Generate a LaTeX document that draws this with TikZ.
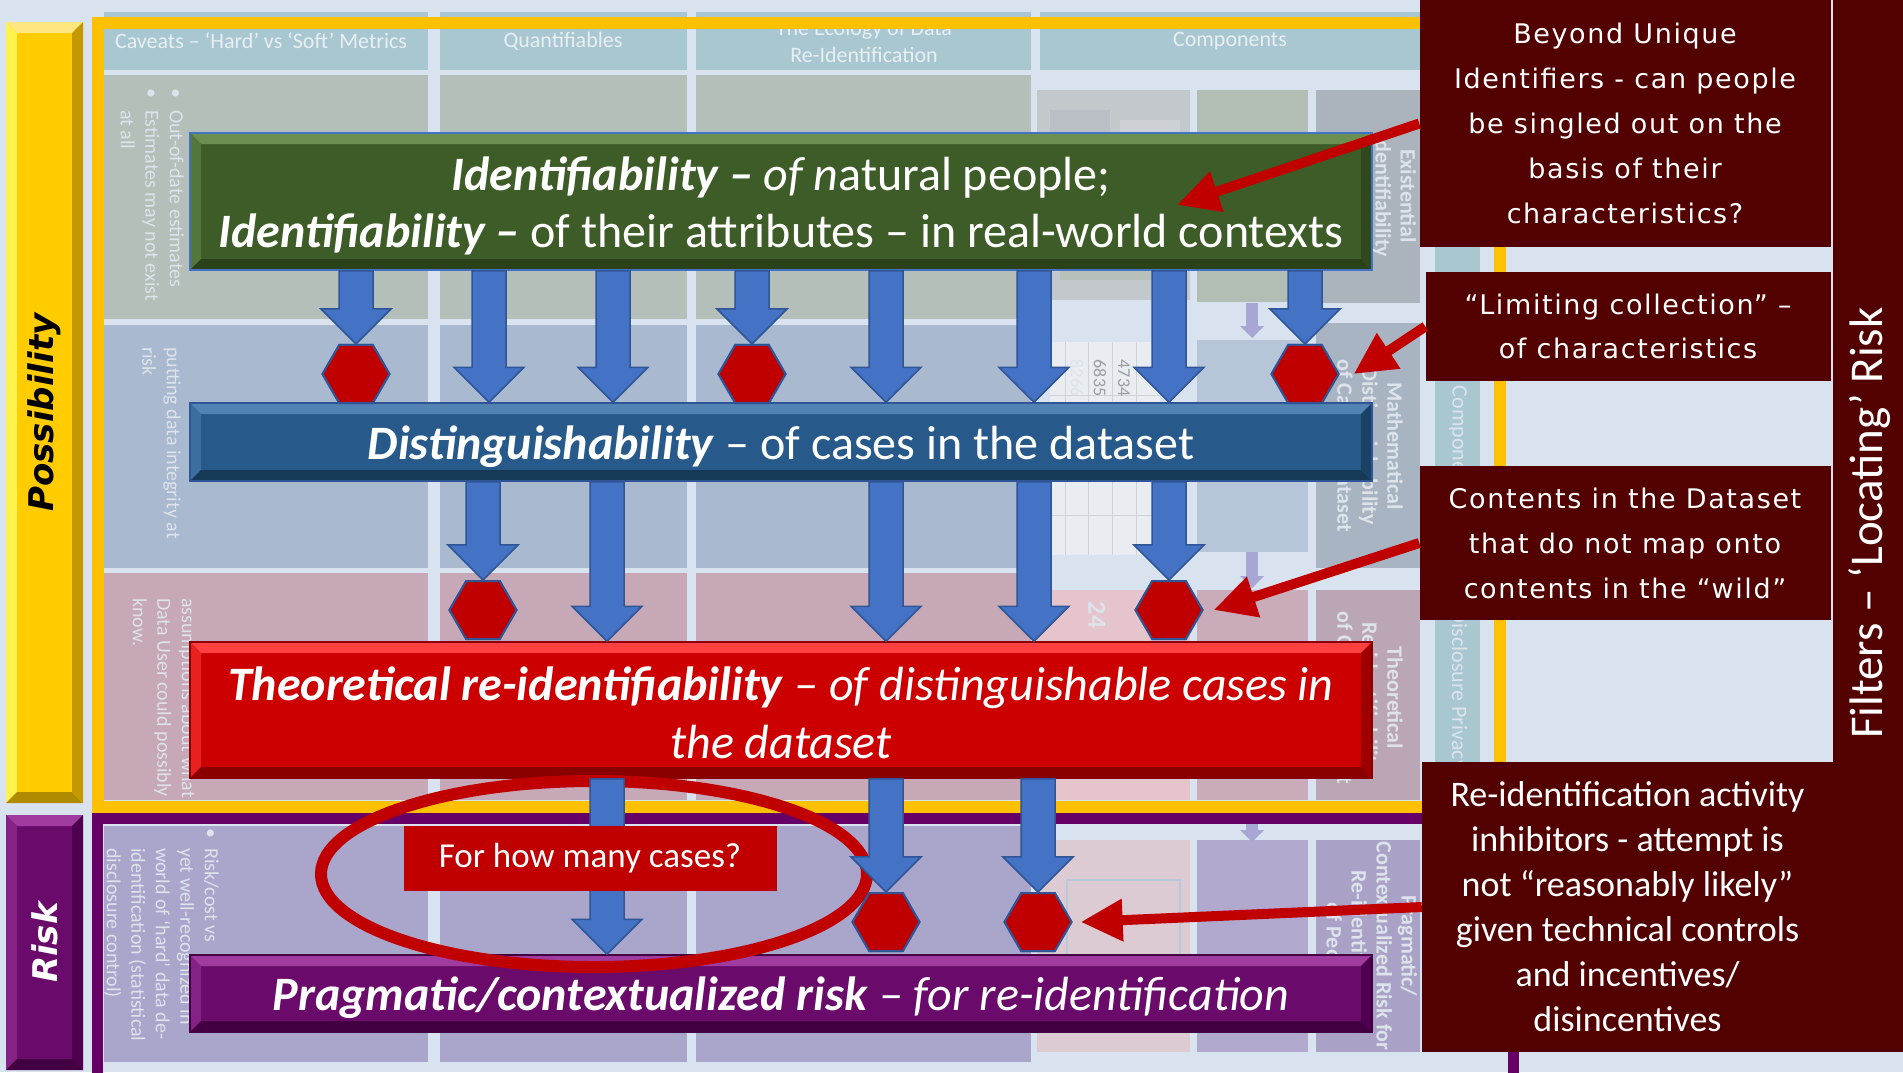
\documentclass[tikz,border=0pt]{standalone}
\usepackage{fontspec}
\setmainfont{Carlito}
\newfontfamily\calloutfont[LetterSpace=6]{DejaVu Sans}
\newfontfamily\bandfont{DejaVu Sans}
\usetikzlibrary{shapes.geometric,arrows.meta,calc}

\definecolor{pagebg}{HTML}{D9E2EF}
\definecolor{hdrcell}{HTML}{A9C7D1}
\definecolor{hdrtext}{HTML}{E8EFF3}
\definecolor{rowA}{HTML}{B4BFB9}
\definecolor{rowB}{HTML}{A9B9D0}
\definecolor{rowC}{HTML}{C6A8B6}
\definecolor{rowD}{HTML}{AAA5CB}
\definecolor{fadetext}{HTML}{DDE3EA}
\definecolor{frameyellow}{HTML}{FFC000}
\definecolor{framepurple}{HTML}{660066}
\definecolor{calloutred}{HTML}{520000}
\definecolor{arrowblue}{HTML}{4472C4}
\definecolor{arrowedge}{HTML}{2F5597}
\definecolor{signalred}{HTML}{C00000}
% components column tints
\definecolor{imgA}{HTML}{C3C8CD}\definecolor{imgB}{HTML}{B9BFC4}\definecolor{imgC}{HTML}{CDD1D5}
\definecolor{imgD}{HTML}{B8C0BA}\definecolor{cellA}{HTML}{B2BEB3}\definecolor{cellB}{HTML}{ABB4BC}
\definecolor{tblfill}{HTML}{E9EDF1}\definecolor{tblgrid}{HTML}{CCD3DA}\definecolor{cellC}{HTML}{B6C5D8}
\definecolor{cellD}{HTML}{A9B4C2}\definecolor{cellE}{HTML}{E5C4CC}\definecolor{cellF}{HTML}{C9ABBA}
\definecolor{cellG}{HTML}{BBA6B6}\definecolor{cellH}{HTML}{DCCBD3}\definecolor{cellI}{HTML}{B8C8DC}
\definecolor{cellJ}{HTML}{B1A9CD}\definecolor{cellK}{HTML}{A9A2C6}\definecolor{faintarrowc}{HTML}{A7A6D4}
% bevelled box palettes: base, top, left, bottom, right
\definecolor{gBase}{HTML}{3E5C27}\definecolor{gTop}{HTML}{6B8F50}\definecolor{gLeft}{HTML}{54763B}
\definecolor{gBottom}{HTML}{2A4119}\definecolor{gRight}{HTML}{2F481D}
\definecolor{bBase}{HTML}{275A8A}\definecolor{bTop}{HTML}{5283B5}\definecolor{bLeft}{HTML}{3C6E9F}
\definecolor{bBottom}{HTML}{163955}\definecolor{bRight}{HTML}{1B4265}
\definecolor{rBase}{HTML}{CC0000}\definecolor{rTop}{HTML}{FF4040}\definecolor{rLeft}{HTML}{E82020}
\definecolor{rBottom}{HTML}{8A0000}\definecolor{rRight}{HTML}{9E0000}
\definecolor{pBase}{HTML}{6A0A6A}\definecolor{pTop}{HTML}{A03CA0}\definecolor{pLeft}{HTML}{852285}
\definecolor{pBottom}{HTML}{420042}\definecolor{pRight}{HTML}{4E004E}
\definecolor{yBase}{HTML}{FFCC00}\definecolor{yTop}{HTML}{FFE680}\definecolor{yLeft}{HTML}{FFF24D}
\definecolor{yBottom}{HTML}{B08A00}\definecolor{yRight}{HTML}{C49900}

\newcommand{\bevdepth}{11pt}
% downward block arrow: shaft from the level of #1 to the tip at #2
\newcommand{\blockarrow}[2]{%
  \filldraw[blockarrow] let \p1=#1, \p2=#2 in
    ({\x2-17pt},\y1) -- ({\x2+17pt},\y1) -- ({\x2+17pt},{\y2+35pt})
    -- ({\x2+35pt},{\y2+35pt}) -- (\x2,\y2) -- ({\x2-35pt},{\y2+35pt})
    -- ({\x2-17pt},{\y2+35pt}) -- cycle;}

\begin{document}
\begin{tikzpicture}[x=1pt,y=-1pt,
  bevel/.style n args={5}{fill=#1, path picture={
    \fill[#2] (path picture bounding box.north west) -- (path picture bounding box.north east)
      -- ([shift={(-\bevdepth,-\bevdepth)}]path picture bounding box.north east)
      -- ([shift={(\bevdepth,-\bevdepth)}]path picture bounding box.north west) -- cycle;
    \fill[#3] (path picture bounding box.north west) -- ([shift={(\bevdepth,-\bevdepth)}]path picture bounding box.north west)
      -- ([shift={(\bevdepth,\bevdepth)}]path picture bounding box.south west) -- (path picture bounding box.south west) -- cycle;
    \fill[#4] (path picture bounding box.south west) -- ([shift={(\bevdepth,\bevdepth)}]path picture bounding box.south west)
      -- ([shift={(-\bevdepth,\bevdepth)}]path picture bounding box.south east) -- (path picture bounding box.south east) -- cycle;
    \fill[#5] (path picture bounding box.north east) -- ([shift={(-\bevdepth,-\bevdepth)}]path picture bounding box.north east)
      -- ([shift={(-\bevdepth,\bevdepth)}]path picture bounding box.south east) -- (path picture bounding box.south east) -- cycle;
  }},
  mainbox/.style={rectangle, inner sep=0pt, line width=1.5pt, minimum width=1182pt},
  maintext/.style={inner sep=0pt, text=white, align=center, font=\fontsize{48}{57}\selectfont},
  bandbox/.style={rectangle, inner sep=0pt, minimum width=77pt},
  bandtext/.style={rotate=90, font=\bandfont\bfseries\itshape\fontsize{34}{40}\selectfont, inner sep=0pt},
  calloutbox/.style={rectangle, fill=calloutred, text=white, align=center, inner sep=0pt},
  blockarrow/.style={fill=arrowblue, draw=arrowedge, line width=1.5pt, line join=miter},
  hexnode/.style={regular polygon, regular polygon sides=6, minimum size=67pt, inner sep=0pt,
    fill=signalred, draw=arrowedge, line width=2pt},
  callarrow/.style={draw=signalred, line width=10pt, -{Triangle[length=42pt,width=40pt]}},
  hdrlabel/.style={text=hdrtext, font=\fontsize{22}{26}\selectfont, align=center, inner sep=0pt},
  fadetxt/.style={text=fadetext, font=\fontsize{20}{24.5}\selectfont, rotate=-90, align=left,
    anchor=north west, inner sep=0pt},
  fadetitle/.style={text=fadetext, font=\bfseries\fontsize{22}{25}\selectfont, rotate=-90,
    align=center, inner sep=0pt},
]
\useasboundingbox (0,0) rectangle (1903,1072);
\fill[pagebg] (0,0) rectangle (1903,1072);

% ---------- faded reference table in the background ----------
\fill[hdrcell] (104,12) rectangle (428,70);
\fill[hdrcell] (440,12) rectangle (687,70);
\fill[hdrcell] (696,12) rectangle (1031,70);
\fill[hdrcell] (1040,12) rectangle (1420,70);
\foreach \xa/\xb in {104/428, 440/687, 696/1031}{
  \fill[rowA] (\xa,75) rectangle (\xb,319);
  \fill[rowB] (\xa,325) rectangle (\xb,568);
  \fill[rowC] (\xa,573) rectangle (\xb,800);
  \fill[rowD] (\xa,826) rectangle (\xb,1062);
}
% components column
\fill[imgA] (1037,90) rectangle (1190,300);
\fill[imgB] (1050,110) rectangle (1110,170);
\fill[imgC] (1120,120) rectangle (1180,200);
\fill[imgD] (1060,210) rectangle (1170,280);
\fill[cellA] (1197,90) rectangle (1308,302);
\fill[cellB] (1316,90) rectangle (1420,303);
\fill[tblfill] (1050,342) rectangle (1160,555);
\foreach \gx in {1065,1088,1112,1136}{\draw[tblgrid, line width=1pt] (\gx,342) -- (\gx,555);}
\foreach \gy in {395,470,515}{\draw[tblgrid, line width=1pt] (1050,\gy) -- (1160,\gy);}
\fill[cellC] (1197,340) rectangle (1308,552);
\fill[cellD] (1316,323) rectangle (1420,568);
\fill[cellE] (1037,590) rectangle (1190,800);
\fill[cellF] (1197,590) rectangle (1308,800);
\fill[cellG] (1316,590) rectangle (1420,800);
\fill[cellH] (1037,840) rectangle (1190,1052);
\draw[cellI, line width=2pt] (1067,880) rectangle (1180,1020);
\fill[cellJ] (1197,840) rectangle (1308,1052);
\fill[cellK] (1316,840) rectangle (1420,1052);
\fill[hdrcell] (1435,247) rectangle (1480,800);
\foreach \ya/\yb in {303/338, 552/588, 804/842}{
  \fill[faintarrowc] (1246,\ya) rectangle (1258,{\yb-12});
  \fill[faintarrowc] (1240,{\yb-12}) -- (1264,{\yb-12}) -- (1252,\yb) -- cycle;
}

% header labels
\node[hdrlabel] (hCaveats) at (261,41) {Caveats – ‘Hard’ vs ‘Soft’ Metrics};
\node[hdrlabel] (hQuant) at (563,41) {Quantifiables};
\node[hdrlabel, font=\fontsize{22}{27}\selectfont] (hEcology) at (864,41) {The Ecology of Data\\Re-Identification};
\node[hdrlabel] (hComp) at (1230,41) {Components};

% faded body text that shows round the main boxes
\node[fadetxt] (fA) at (184,110) {\llap{\textbullet\hspace{12pt}}Out-of-date estimates\\\llap{\textbullet\hspace{12pt}}Estimates may not exist\\at all};
\node[fadetxt] (fB) at (181,347) {putting data integrity at\\risk};
\node[fadetxt] (fC) at (196,598) {assumptions about what\\Data User could possibly\\know.};
\node[fadetxt] (fD) at (219,848) {\llap{\textbullet\hspace{10pt}}Risk/cost vs\\yet well-recognized in\\world of ‘hard’ data de-\\identification (statistical\\disclosure control)};
\node[fadetitle] (fE) at (1394,196) {Existential\\Identifiability};
\node[fadetitle] (fF) at (1370,446) {Mathematical\\Distinguishability\\of Cases in Dataset};
\node[fadetitle] (fG) at (1370,698) {Theoretical\\Re-identifiability\\of Cases in Dataset};
\node[fadetitle] (fH) at (1370,946) {Pragmatic/\\Contextualized Risk for\\Re-identification\\of People};
\node[fadetitle, font=\fontsize{22}{25}\selectfont] (fI) at (1458,420) {Four Components};
\node[fadetitle, font=\fontsize{22}{25}\selectfont] (fJ) at (1458,690) {Disclosure Privacy};
\node[text=fadetext, rotate=-90, font=\fontsize{18}{20}\selectfont, inner sep=0pt] (n1) at (1077,378) {8266};
\node[text=fadetext!70!black, rotate=-90, font=\fontsize{18}{20}\selectfont, inner sep=0pt] (n2) at (1100,378) {6835};
\node[text=fadetext!70!black, rotate=-90, font=\fontsize{18}{20}\selectfont, inner sep=0pt] (n3) at (1124,378) {4734};
\node[text=fadetext, rotate=-90, font=\bfseries\fontsize{26}{28}\selectfont, inner sep=0pt] (n4) at (1097,615) {24};

% ---------- frames ----------
\draw[frameyellow, line width=12pt] (98,23) rectangle (1500,807);
\draw[framepurple, line width=11pt] (97.5,818.5) rectangle (1513,1078);

% ---------- side bands ----------
\node[bandbox, minimum height=781pt, bevel={yBase}{yTop}{yLeft}{yBottom}{yRight}] (possbar) at (44.5,412.5) {};
\node[bandtext, text=black] (posslabel) at (possbar.center) {Possibility};
\node[bandbox, minimum height=255pt, bevel={pBase}{pTop}{pLeft}{pBottom}{pRight}] (riskbar) at (44.5,942.5) {};
\node[bandtext, text=white] (risklabel) at (riskbar.center) {Risk};

% ---------- main boxes ----------
\node[mainbox, minimum height=137pt, draw=arrowblue, bevel={gBase}{gTop}{gLeft}{gBottom}{gRight}] (green) at (781,201.5) {};
\node[maintext] (greentext) at ([yshift=-4pt]green.center)
  {\textbf{\textit{Identifiability –}} \textit{of n}atural people;\\
   \textbf{\textit{Identifiability –}} of their attributes – in real-world contexts};
\node[mainbox, minimum height=78pt, draw=arrowedge, bevel={bBase}{bTop}{bLeft}{bBottom}{bRight}] (blue) at (781,442) {};
\node[maintext] (bluetext) at ([yshift=-5pt]blue.center)
  {\textbf{\textit{Distinguishability}} – of cases in the dataset};
\node[mainbox, minimum height=136pt, draw=rBottom, bevel={rBase}{rTop}{rLeft}{rBottom}{rRight}] (red) at (781,710) {};
\node[maintext, font=\fontsize{48}{58}\selectfont] (redtext) at ([yshift=-3pt]red.center)
  {\textbf{\textit{Theoretical re-identifiability}} \textit{– of distinguishable cases in}\\\textit{the dataset}};
\node[mainbox, minimum height=77pt, draw=pBottom, bevel={pBase}{pTop}{pLeft}{pBottom}{pRight}] (purple) at (781,993.5) {};
\node[maintext] (purpletext) at ([yshift=-4pt]purple.center)
  {\textbf{\textit{Pragmatic/contextualized risk}} \textit{– for re-identification}};

% ring round the count question
\node[ellipse, draw=signalred, line width=12pt, minimum width=546pt, minimum height=186pt, inner sep=0pt] (ring) at (594,874) {};

% ---------- filter hexagons ----------
\node[hexnode] (h1) at (356,374) {};
\node[hexnode] (h4) at (752,374) {};
\node[hexnode] (h8) at (1305,374) {};
\node[hexnode] (k1) at (483,610) {};
\node[hexnode] (k5) at (1169,610) {};
\node[hexnode] (m2) at (886,922) {};
\node[hexnode] (m3) at (1038,922) {};

% ---------- block arrows ----------
\blockarrow{(green.south -| h1.north)}{(h1.north)}
\blockarrow{(green.south -| 489,0)}{(blue.north -| 489,0)}
\blockarrow{(green.south -| 613,0)}{(blue.north -| 613,0)}
\blockarrow{(green.south -| h4.north)}{(h4.north)}
\blockarrow{(green.south -| 886,0)}{(blue.north -| 886,0)}
\blockarrow{(green.south -| 1034,0)}{(blue.north -| 1034,0)}
\blockarrow{(green.south -| 1169,0)}{(blue.north -| 1169,0)}
\blockarrow{(green.south -| h8.north)}{(h8.north)}
\blockarrow{(blue.south -| k1.north)}{(k1.north)}
\blockarrow{(blue.south -| 607,0)}{(red.north -| 607,0)}
\blockarrow{(blue.south -| 886,0)}{(red.north -| 886,0)}
\blockarrow{(blue.south -| 1034,0)}{(red.north -| 1034,0)}
\blockarrow{(blue.south -| k5.north)}{(k5.north)}
\blockarrow{(red.south -| 607,0)}{(purple.north -| 607,0)}
\blockarrow{(red.south -| m2.north)}{(m2.north)}
\blockarrow{(red.south -| m3.north)}{(m3.north)}
% redraw the hexagons over the arrow tips
\foreach \h in {h1,h4,h8,k1,k5,m2,m3}{\path (\h) node[hexnode] {};}

\node[fill=signalred, text=white, font=\fontsize{35}{40}\selectfont, minimum width=373pt, minimum height=65pt, inner sep=0pt] (howmany) at (590,858.5) {For how many cases?};

% ---------- callouts on the right ----------
\node[calloutbox, minimum width=70pt, minimum height=1052pt] (filters) at (1868,526) {};
\node[rotate=90, text=white, font=\fontsize{47}{50}\selectfont, inner sep=0pt] (filterslabel) at (1870,523) {Filters – ‘Locating’ Risk};
\node[calloutbox, minimum width=411pt, minimum height=247pt, font=\calloutfont\fontsize{27}{45}\selectfont] (b1) at (1625,123.5)
  {Beyond Unique\\Identifiers - can people\\be singled out on the\\basis of their\\characteristics?};
\node[calloutbox, minimum width=405pt, minimum height=109pt, font=\calloutfont\fontsize{27}{44}\selectfont] (b2) at (1628,326.5)
  {“Limiting collection” –\\of characteristics};
\node[calloutbox, minimum width=411pt, minimum height=154pt, font=\calloutfont\fontsize{27}{45}\selectfont] (b3) at (1625,543)
  {Contents in the Dataset\\that do not map onto\\contents in the “wild”};
\node[calloutbox, minimum width=411pt, minimum height=290pt, font=\fontsize{36}{45}\selectfont] (b4) at (1627.5,907)
  {Re-identification activity\\inhibitors - attempt is\\not “reasonably likely”\\given technical controls\\and incentives/\\disincentives};

\coordinate (t1) at (1177,205);
\draw[callarrow] (b1.west) -- (t1);
\draw[callarrow] (b2.west) -- ([xshift=14pt]h8.east);
\draw[callarrow] (b3.west) -- ([xshift=10pt]k5.east);
\draw[callarrow] (b4.west) -- ([xshift=8pt]m3.east);
\end{tikzpicture}
\end{document}
